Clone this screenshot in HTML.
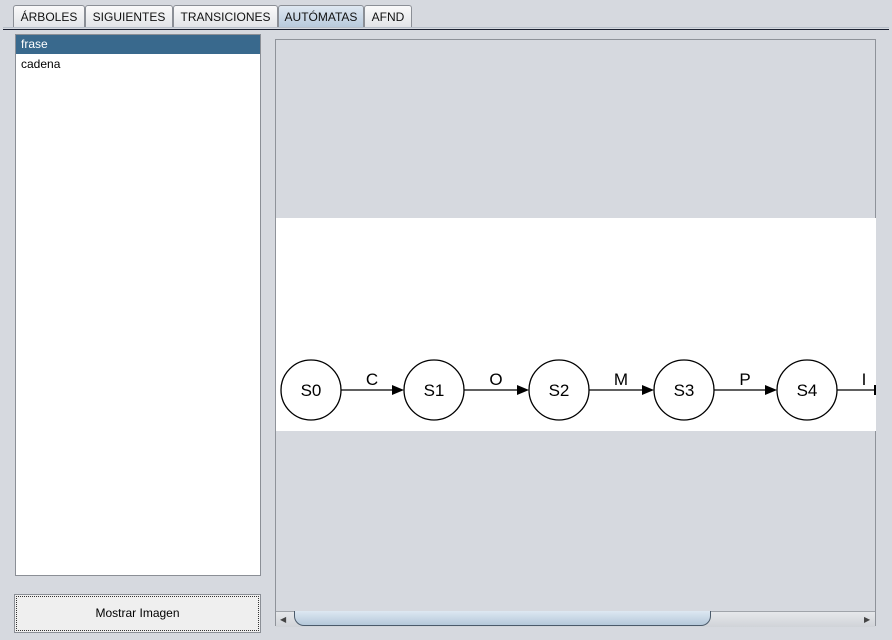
<!DOCTYPE html>
<html><head><style>
body{margin:0;width:892px;height:640px;background:#d6d9df;font-family:"Liberation Sans",sans-serif;position:relative;overflow:hidden}
.tab{position:absolute;top:5px;height:22px;border:1px solid #8b8f96;border-bottom:none;border-radius:3px 3px 0 0;background:linear-gradient(#fafafa,#e2e4e8);font-size:12px;line-height:22px;text-align:center;color:#111;box-sizing:border-box}
.sel{background:linear-gradient(#dfe8f2,#b8cadc)}
</style></head><body>
<div class="tab" style="left:13px;width:72px">ÁRBOLES</div>
<div class="tab" style="left:85px;width:88px">SIGUIENTES</div>
<div class="tab" style="left:173px;width:105px">TRANSICIONES</div>
<div class="tab sel" style="left:278px;width:86px">AUTÓMATAS</div>
<div class="tab" style="left:364px;width:48px">AFND</div>
<div style="position:absolute;left:3px;top:27px;width:886px;height:1px;background:#b8c0ca"></div>
<div style="position:absolute;left:3px;top:29px;width:886px;height:1px;background:#1a2030"></div>
<div style="position:absolute;left:15px;top:34px;width:244px;height:540px;background:#fff;border:1px solid #8b8f96">
<div style="height:19px;background:#39698d;color:#fff;font-size:12px;line-height:19px;padding-left:5px">frase</div>
<div style="height:19px;font-size:12px;line-height:20px;padding-left:5px">cadena</div>
</div>
<div style="position:absolute;left:14px;top:594px;width:247px;height:39px;box-sizing:border-box;border:1px solid #8b8f96;background:#efefef;font-size:12px;text-align:center;line-height:37px;outline:1px dotted #333;outline-offset:-3px">Mostrar Imagen</div>
<div style="position:absolute;left:275px;top:39px;width:601px;height:587px;border:1px solid #8f939a;box-sizing:border-box"></div>
<svg style="position:absolute;left:276px;top:218px" width="600" height="213">
<rect width="600" height="213" fill="#fff"/>
<g fill="none" stroke="#000" stroke-width="1.3">
<circle cx="35" cy="172" r="30"/><circle cx="158" cy="172" r="30"/><circle cx="283" cy="172" r="30"/><circle cx="408" cy="172" r="30"/><circle cx="531" cy="172" r="30"/>
<path d="M65 172H116M188 172H241M313 172H366M438 172H489M561 172H600"/>
</g>
<g fill="#000"><path d="M116 167L128 172L116 177Z"/><path d="M241 167L253 172L241 177Z"/><path d="M366 167L378 172L366 177Z"/><path d="M489 167L501 172L489 177Z"/><rect x="598" y="167" width="2" height="10"/></g>
<g font-family="Liberation Sans" font-size="17" text-anchor="middle">
<text x="35" y="178">S0</text><text x="158" y="178">S1</text><text x="283" y="178">S2</text><text x="408" y="178">S3</text><text x="531" y="178">S4</text>
<text x="96" y="167">C</text><text x="220" y="167">O</text><text x="345" y="167">M</text><text x="469" y="167">P</text><text x="588" y="167">I</text>
</g></svg>
<div style="position:absolute;left:276px;top:611px;width:599px;height:15px;background:linear-gradient(#e6e8eb,#d0d3d8);border-top:1px solid #a0a4aa"></div>
<div style="position:absolute;left:280px;top:615px;font-size:8px;color:#444">◀</div>
<div style="position:absolute;left:864px;top:615px;font-size:8px;color:#444">▶</div>
<div style="position:absolute;left:294px;top:611px;width:415px;height:14px;border:1px solid #4a5a6a;border-top:none;border-radius:0 0 10px 10px;background:linear-gradient(#dde8f2,#b5c8da)"></div>
</body></html>
